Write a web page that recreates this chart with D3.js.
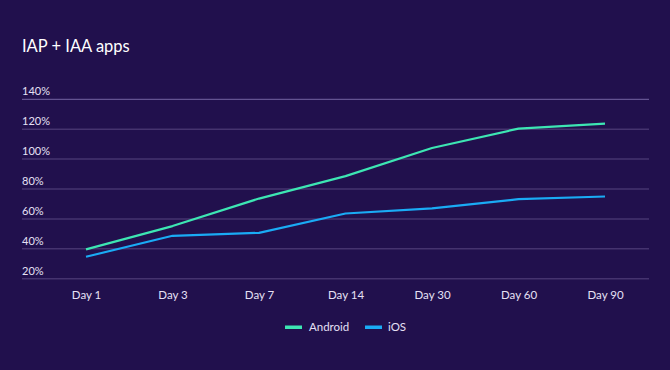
<!DOCTYPE html>
<html><head><meta charset="utf-8">
<script src="https://cdn.jsdelivr.net/npm/d3@7"></script>
<style>
html,body{margin:0;padding:0;background:#21104d;}
svg{display:block;font-family:Lato, "Open Sans", sans-serif;}
</style></head>
<body>
<svg id="c" width="670" height="370"></svg>
<script>
const categories = ["Day 1","Day 3","Day 7","Day 14","Day 30","Day 60","Day 90"];
const android = [39.6, 55.2, 73.6, 88.6, 107.4, 120.4, 123.7];
const ios = [34.7, 48.7, 50.7, 63.6, 67.0, 73.2, 75.0];
const yTicks = [20, 40, 60, 80, 100, 120, 140];
const seriesNames = ["Android", "iOS"];
const colors = ["#3de6b3", "#1aabf5"];

const svg = d3.select("#c");
svg.append("rect").attr("width",670).attr("height",370).attr("fill","#21104d");

svg.append("text").attr("x",22).attr("y",52).attr("fill","#ffffff")
  .attr("font-size",16.5).text("IAP + IAA apps");

const x = d3.scalePoint().domain(categories).range([86, 605]);
const y = d3.scaleLinear().domain([20, 140]).range([278.7, 99.3]);

// grid
const g = svg.append("g");
yTicks.forEach(t => {
  g.append("line").attr("x1",22).attr("x2",649)
   .attr("y1",y(t)).attr("y2",y(t))
   .attr("stroke", t===140 ? "#7565a3" : "#45336f").attr("stroke-width", t===140?1:1.5);
  g.append("text").attr("x",22).attr("y",y(t)-4).attr("fill","#e6e0f5")
   .attr("font-size",11).text(t+"%");
});

// x axis labels
const xAxis = d3.axisBottom(x).tickSize(0).tickPadding(0);
const xg = svg.append("g").attr("transform","translate(0,291)").call(xAxis);
xg.select(".domain").remove();
xg.selectAll("text").attr("fill","#e6e0f5").attr("font-size",11.5)
  .attr("font-family","Lato, 'Open Sans', sans-serif").attr("dy","0.71em");

// lines
const line = d3.line().x((d,i)=>x(categories[i])).y(d=>y(d));
[android, ios].forEach((s,i)=>{
  svg.append("path").datum(s).attr("d",line).attr("fill","none")
    .attr("stroke",colors[i]).attr("stroke-width",2.2).attr("stroke-linejoin","round");
});

// legend
const leg = svg.append("g");
const legPos = [{sx:285, tx:309},{sx:365, tx:388}];
seriesNames.forEach((n,i)=>{
  leg.append("rect").attr("x",legPos[i].sx).attr("y",325.5).attr("width",17).attr("height",3.5)
    .attr("fill",colors[i]);
  leg.append("text").attr("x",legPos[i].tx).attr("y",331).attr("fill","#e6e0f5")
    .attr("font-size",11.5).text(n);
});
</script>
</body></html>
